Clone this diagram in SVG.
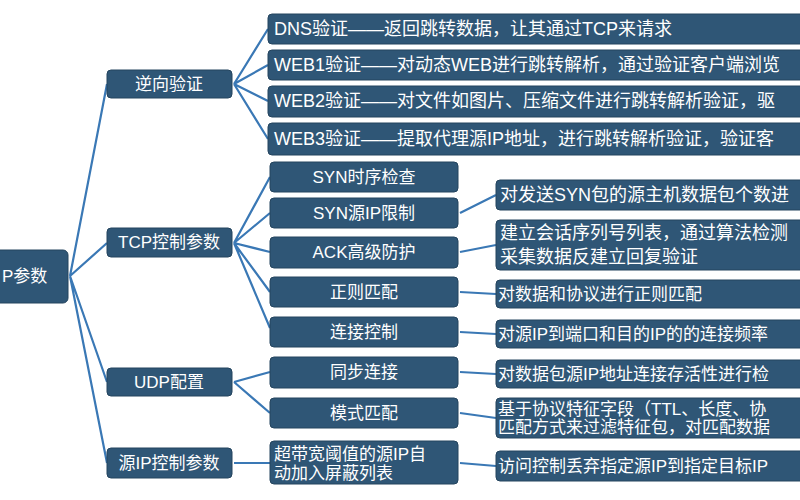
<svg xmlns="http://www.w3.org/2000/svg" width="800" height="500" viewBox="0 0 800 500">
<style>
.n{fill:#2f5676;stroke:#24445e;stroke-width:1}
.t{fill:#fff;font-family:"Liberation Sans","Noto Sans CJK SC",sans-serif;font-size:17px}
.w{font-size:18px}
.c{stroke:#3a78b5;stroke-width:2.2;fill:none}
</style>
<rect width="800" height="500" fill="#fff"/>
<g id="connectors">
<path class="c" d="M70 276 L107 84 M70 276 L107 243 M70 276 L107 382 M70 276 L107 463"/>
<path class="c" d="M234 84 L268 29 M234 84 L268 65 M234 84 L268 101 M234 84 L268 139"/>
<path class="c" d="M234 243 L270 177 M234 243 L270 213 M234 243 L270 252 M234 243 L270 292 M234 243 L270 328"/>
<path class="c" d="M234 382 L270 372 M234 382 L270 413"/>
<path class="c" d="M234 463 L270 463"/>
<path class="c" d="M460 213 L496 195 M460 252 L496 245 M460 292 L496 294 M460 332 L496 334 M460 372 L496 374 M460 413 L496 418 M460 463 L496 466"/>
</g>
<g id="root"><rect class="n" x="-20" y="250" width="88" height="53" rx="5"/><text class="t" x="2" y="282">P参数</text></g>
<g id="l1a"><rect class="n" x="107" y="70" width="125" height="28" rx="4"/><text class="t" x="169" y="90" text-anchor="middle">逆向验证</text></g>
<g id="l1b"><rect class="n" x="107" y="228" width="125" height="29" rx="4"/><text class="t" x="169" y="248" text-anchor="middle">TCP控制参数</text></g>
<g id="l1c"><rect class="n" x="107" y="368" width="125" height="28" rx="4"/><text class="t" x="169" y="388" text-anchor="middle">UDP配置</text></g>
<g id="l1d"><rect class="n" x="107" y="448" width="125" height="30" rx="4"/><text class="t" x="169" y="469" text-anchor="middle">源IP控制参数</text></g>
<g id="dns"><rect class="n" x="268" y="14" width="540" height="30" rx="4"/><text class="t w" x="274" y="35">DNS验证——返回跳转数据，让其通过TCP来请求</text></g>
<g id="web1"><rect class="n" x="268" y="50" width="540" height="30" rx="4"/><text class="t w" x="274" y="71">WEB1验证——对动态WEB进行跳转解析，通过验证客户端浏览</text></g>
<g id="web2"><rect class="n" x="268" y="86" width="540" height="31" rx="4"/><text class="t w" x="274" y="107">WEB2验证——对文件如图片、压缩文件进行跳转解析验证，驱</text></g>
<g id="web3"><rect class="n" x="268" y="123" width="540" height="32" rx="4"/><text class="t w" x="274" y="145">WEB3验证——提取代理源IP地址，进行跳转解析验证，验证客</text></g>
<g id="syn1"><rect class="n" x="270" y="162" width="188" height="30" rx="4"/><text class="t" x="364" y="183" text-anchor="middle">SYN时序检查</text></g>
<g id="syn2"><rect class="n" x="270" y="198" width="188" height="30" rx="4"/><text class="t" x="364" y="219" text-anchor="middle">SYN源IP限制</text></g>
<g id="ack"><rect class="n" x="270" y="237" width="188" height="31" rx="4"/><text class="t" x="364" y="258" text-anchor="middle">ACK高级防护</text></g>
<g id="re"><rect class="n" x="270" y="277" width="188" height="30" rx="4"/><text class="t" x="364" y="298" text-anchor="middle">正则匹配</text></g>
<g id="conn"><rect class="n" x="270" y="317" width="188" height="30" rx="4"/><text class="t" x="364" y="338" text-anchor="middle">连接控制</text></g>
<g id="sync"><rect class="n" x="270" y="357" width="188" height="31" rx="4"/><text class="t" x="364" y="378" text-anchor="middle">同步连接</text></g>
<g id="mode"><rect class="n" x="270" y="398" width="188" height="30" rx="4"/><text class="t" x="364" y="419" text-anchor="middle">模式匹配</text></g>
<g id="band"><rect class="n" x="270" y="441" width="188" height="43" rx="4"/><text class="t" x="274" y="460">超带宽阈值的源IP自</text><text class="t" x="274" y="479">动加入屏蔽列表</text></g>
<g id="d1"><rect class="n" x="496" y="180" width="310" height="30" rx="4"/><text class="t w" x="500" y="201">对发送SYN包的源主机数据包个数进</text></g>
<g id="d2"><rect class="n" x="496" y="220" width="310" height="50" rx="4"/><text class="t w" x="500" y="239">建立会话序列号列表，通过算法检测</text><text class="t w" x="500" y="263">采集数据反建立回复验证</text></g>
<g id="d3"><rect class="n" x="496" y="280" width="310" height="28" rx="4"/><text class="t" x="498" y="300">对数据和协议进行正则匹配</text></g>
<g id="d4"><rect class="n" x="496" y="320" width="310" height="28" rx="4"/><text class="t" x="498" y="340">对源IP到端口和目的IP的的连接频率</text></g>
<g id="d5"><rect class="n" x="496" y="360" width="310" height="28" rx="4"/><text class="t" x="498" y="380">对数据包源IP地址连接存活性进行检</text></g>
<g id="d6"><rect class="n" x="496" y="398" width="310" height="40" rx="4"/><text class="t" x="498" y="415">基于协议特征字段（TTL、长度、协</text><text class="t" x="498" y="433">匹配方式来过滤特征包，对匹配数据</text></g>
<g id="d7"><rect class="n" x="496" y="451" width="310" height="30" rx="4"/><text class="t" x="498" y="472">访问控制丢弃指定源IP到指定目标IP</text></g>
</svg>
